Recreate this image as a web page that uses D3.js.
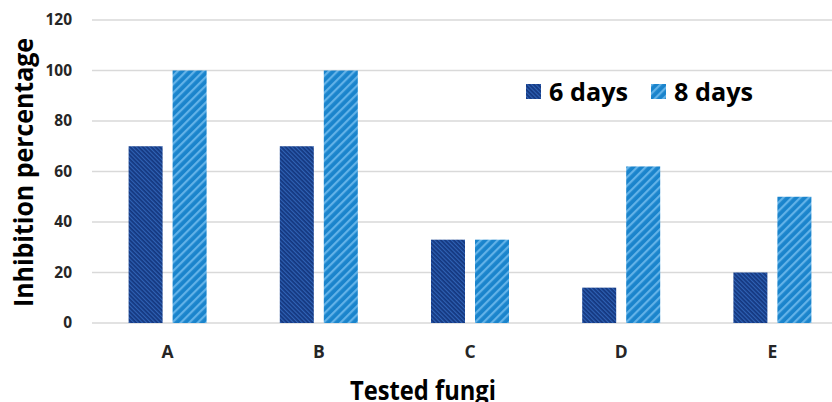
<!DOCTYPE html>
<html>
<head>
<meta charset="utf-8">
<script src="https://cdn.jsdelivr.net/npm/d3@7/dist/d3.min.js"></script>
<style>
  html, body { margin: 0; padding: 0; background: #fff; }
  svg { display: block; font-family: "Open Sans", "Noto Sans", sans-serif; }
</style>
</head>
<body>
<svg id="chart" width="832" height="402"></svg>
<script>
// Fungal growth inhibition after 6 and 8 days
const fungi = ["A", "B", "C", "D", "E"];
const seriesNames = ["6 days", "8 days"];
const days6 = [70, 70, 33, 14, 20];
const days8 = [100, 100, 33, 62, 50];
const yTicks = [0, 20, 40, 60, 80, 100, 120];

const svg = d3.select("#chart");
const W = 832, H = 402;
const margin = { left: 92, right: -16, top: 20, bottom: 79 };

const x = d3.scaleBand().domain(fungi).range([margin.left, W - margin.right]).paddingInner(0).paddingOuter(0);
const x1 = d3.scaleBand().domain(seriesNames).range([0, 78]).paddingInner(10 / 44);
const y = d3.scaleLinear().domain([0, 120]).range([H - margin.bottom, margin.top]);

// Hatch patterns
const defs = svg.append("defs");
function hatch(id, base, stripe, angle, spacing, sw) {
  const p = defs.append("pattern").attr("id", id).attr("patternUnits", "userSpaceOnUse")
    .attr("width", spacing).attr("height", spacing).attr("patternTransform", `rotate(${angle})`);
  p.append("rect").attr("width", spacing).attr("height", spacing).attr("fill", base);
  p.append("rect").attr("width", sw).attr("height", spacing).attr("fill", stripe);
}
hatch("hatch6", "#14377f", "#2f62b5", -45, 3, 1.2);
hatch("hatch8", "#1a84cc", "#62b2e8", 45, 6, 2.2);
const fills = { "6 days": "url(#hatch6)", "8 days": "url(#hatch8)" };

// Gridlines
svg.append("g").selectAll("line").data(yTicks).join("line")
  .attr("x1", margin.left).attr("x2", W)
  .attr("y1", d => y(d)).attr("y2", d => y(d))
  .attr("stroke", "#d9d9d9").attr("stroke-width", 1.5);

// Y axis tick labels
const yAxis = d3.axisLeft(y).tickValues(yTicks).tickSize(0).tickPadding(0);
const gy = svg.append("g").attr("transform", "translate(72,0)").call(yAxis);
gy.select(".domain").remove();
gy.selectAll("text").attr("font-size", 15.5).attr("font-weight", 700).attr("fill", "#262626")
  .attr("font-family", "\"Open Sans\", sans-serif");

// X axis labels
const xAxis = d3.axisBottom(x).tickSize(0).tickPadding(0);
const gx = svg.append("g").attr("transform", `translate(0,${y(0) + 23})`).call(xAxis);
gx.select(".domain").remove();
gx.selectAll("text").attr("font-size", 17.5).attr("font-weight", 700).attr("fill", "#262626")
  .attr("font-family", "\"Open Sans\", sans-serif");

// Bars
const rows = fungi.map((f, i) => ({ f, vals: [{ s: "6 days", v: days6[i] }, { s: "8 days", v: days8[i] }] }));
const groups = svg.append("g").selectAll("g").data(rows).join("g")
  .attr("transform", d => `translate(${x(d.f) + x.bandwidth() / 2 - 39},0)`);
groups.selectAll("rect").data(d => d.vals).join("rect")
  .attr("x", d => x1(d.s)).attr("width", x1.bandwidth())
  .attr("y", d => y(d.v)).attr("height", d => y(0) - y(d.v))
  .attr("fill", d => fills[d.s]);

// Axis titles
svg.append("text").attr("x", 350).attr("y", 400)
  .attr("textLength", 146).attr("lengthAdjust", "spacingAndGlyphs")
  .attr("font-size", 26).attr("font-weight", 700).attr("fill", "#000").text("Tested fungi");
svg.append("text").attr("transform", "translate(33,307) rotate(-90)")
  .attr("textLength", 269).attr("lengthAdjust", "spacingAndGlyphs")
  .attr("font-size", 27).attr("font-weight", 700).attr("fill", "#000").text("Inhibition percentage");

// Legend
const legend = svg.append("g").selectAll("g").data(seriesNames).join("g")
  .attr("transform", (d, i) => `translate(${526 + i * 125},84)`);
legend.append("rect").attr("width", 15).attr("height", 15).attr("fill", d => fills[d]);
legend.append("text").attr("x", 23).attr("y", 16.5)
  .attr("textLength", 79).attr("lengthAdjust", "spacingAndGlyphs")
  .attr("font-size", 25).attr("font-weight", 700).attr("fill", "#000").text(d => d);
</script>
</body>
</html>
